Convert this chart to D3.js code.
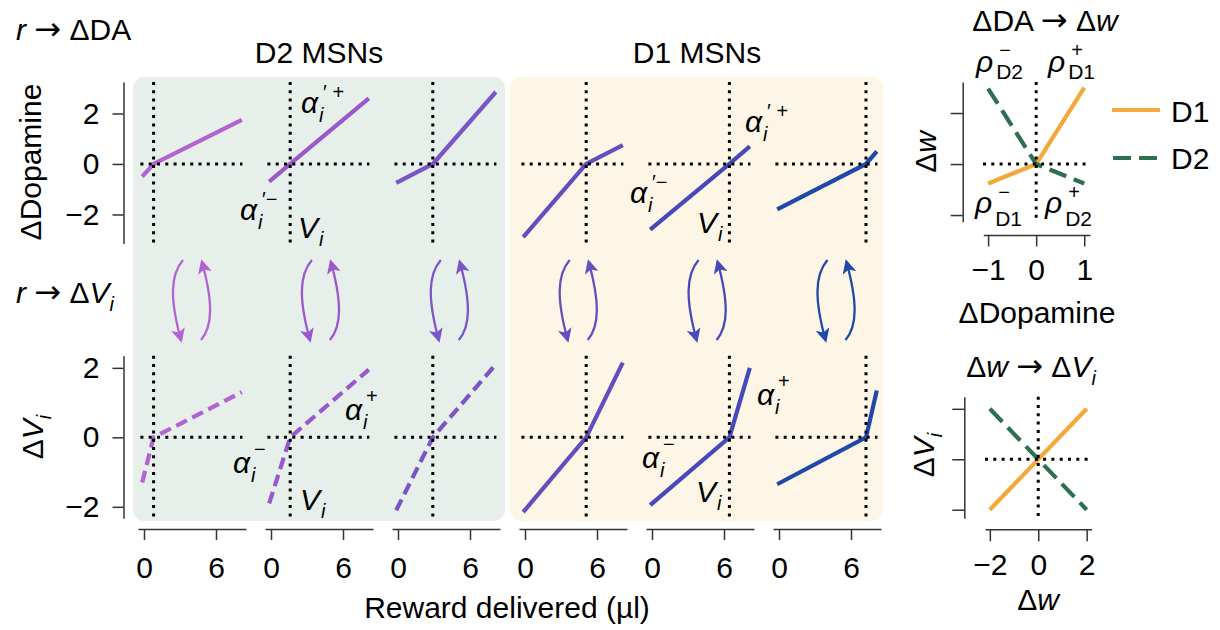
<!DOCTYPE html>
<html>
<head>
<meta charset="utf-8">
<script src="https://cdn.jsdelivr.net/npm/d3@7"></script>
<style>
  body { margin: 0; background: #fff; }
  svg { font-family: "Liberation Sans", Arial, sans-serif; }
  .axis path, .axis line { stroke: #333; stroke-width: 1.5; }
  .axis text { font-size: 30px; fill: #000; font-family: "Liberation Sans", Arial, sans-serif; }
  .dots { stroke: #000; stroke-width: 3; stroke-dasharray: 3, 5.3; fill: none; }
  .it { font-style: italic; }
  .arr { font-family: "DejaVu Sans", sans-serif; font-size: 32px; }
</style>
</head>
<body>
<svg width="1220" height="630"></svg>
<script>
// ---- data ----
var rewardTicks = [0, 6];
var rewardEnds = [-0.15, 8.15];          // first / last reward on each curve
var valueV = [0.8, 1.6, 2.9, 5.1, 6.45, 7.25];   // V_i, where curves cross zero
var daLeft = [-0.5, -0.7, -0.75, -2.9, -2.6, -1.8];
var daRight = [1.75, 2.6, 2.85, 0.75, 0.7, 0.5];
var dvLeft = [-1.3, -1.9, -2.1, -2.15, -1.95, -1.35];
var dvRight = [1.3, 1.95, 2.1, 2.15, 2.0, 1.35];
var isD2 = [true, true, true, false, false, false];
var daTicks = [-2, 0, 2];
var dvTicks = [-2, 0, 2];
var panelColors = ['#b262d2', '#9a58cd', '#7b54c8', '#614fc0', '#4549b9', '#1f48a8'];

var daIn = [-1, 0, 1];
var dwD1 = [-0.38, 0, 1.5];
var dwD2 = [1.48, 0, -0.38];
var daInTicks = [-1, 0, 1];
var dwTicks = [-1, 0, 1];

var dwIn = [-2, 2];
var dviD1 = [-2, 2];
var dviD2 = [2, -2];
var dwInTicks = [-2, 0, 2];
var dviTicks = [-2, 0, 2];

var orange = '#f4a83a';
var green = '#2f6e4f';
var fs = 30;

var svg = d3.select('svg');
var defs = svg.append('defs');
var fmt = d3.format('d');

// panel backgrounds
svg.append('rect').attr('x', 133).attr('y', 77).attr('width', 372).attr('height', 444)
  .attr('rx', 11).attr('fill', '#e7efeb');
svg.append('rect').attr('x', 510).attr('y', 77).attr('width', 373).attr('height', 444)
  .attr('rx', 11).attr('fill', '#fdf6e7');

// text made of parts: [string, kind] kind = i (italic), sub, arr
function label(x, y, parts, anchor, transform) {
  var t = svg.append('text').attr('font-size', fs).attr('text-anchor', anchor || 'start');
  if (transform) t.attr('transform', transform);
  else t.attr('x', x).attr('y', y);
  var shifted = false;
  parts.forEach(function(p) {
    var s = t.append('tspan').text(p[0]);
    if (p[1] == 'i') s.attr('class', 'it');
    if (p[1] == 'arr') s.attr('class', 'arr');
    if (p[1] == 'sub') { s.attr('class', 'it').attr('font-size', 20).attr('dy', 8); shifted = true; }
    else if (shifted) { s.attr('dy', -8); shifted = false; }
  });
  return t;
}

// base glyph with stacked super/subscript
function script(x, y, base, sup, sub, o) {
  var b = svg.append('text').attr('x', x).attr('y', y).attr('font-size', fs)
    .attr('class', 'it').text(base);
  var w = b.node().getComputedTextLength();
  if (sub) svg.append('text').attr('x', x + w + o.subDx).attr('y', y + o.subDy)
    .attr('font-size', o.subSize || 20).attr('class', o.subUp ? null : 'it').text(sub);
  if (sup) svg.append('text').attr('x', x + w + o.supDx).attr('y', y + o.supDy)
    .attr('font-size', 20).text(sup);
}

// titles
label(16, 40, [['r', 'i'], [' '], ['\u2192', 'arr'], [' \u0394DA']]);
label(16, 303, [['r', 'i'], [' '], ['\u2192', 'arr'], [' \u0394'], ['V', 'i'], ['i', 'sub']]);
svg.append('text').attr('x', 319).attr('y', 63).attr('font-size', fs)
  .attr('text-anchor', 'middle').text('D2 MSNs');
svg.append('text').attr('x', 697).attr('y', 63).attr('font-size', fs)
  .attr('text-anchor', 'middle').text('D1 MSNs');
svg.append('text').attr('x', 507).attr('y', 618).attr('font-size', fs)
  .attr('text-anchor', 'middle').text('Reward delivered (\u00b5l)');

svg.append('text').attr('transform', 'translate(41,162) rotate(-90)')
  .attr('font-size', fs).attr('text-anchor', 'middle').text('\u0394Dopamine');
label(0, 0, [['\u0394'], ['V', 'i'], ['i', 'sub']], 'middle', 'translate(43,437) rotate(-90)');

var yTop = d3.scaleLinear().domain([-3.15, 3.25]).range([243.5, 81.9]);
var yBot = d3.scaleLinear().domain([-2.33, 2.35]).range([518.3, 355.7]);

svg.append('g').attr('class', 'axis').attr('transform', 'translate(123.5,0)')
  .call(d3.axisLeft(yTop).tickValues(daTicks).tickFormat(fmt).tickSize(11).tickSizeOuter(0).tickPadding(13));
svg.append('g').attr('class', 'axis').attr('transform', 'translate(123.5,0)')
  .call(d3.axisLeft(yBot).tickValues(dvTicks).tickFormat(fmt).tickSize(11).tickSizeOuter(0).tickPadding(13));

valueV.forEach(function(v, i) {
  var ox = 144 + i * 127;
  var x = d3.scaleLinear().domain([-0.5, 8.5]).range([ox - 6, ox + 102]);
  var col = panelColors[i];

  svg.append('g').attr('class', 'axis').attr('transform', 'translate(0,529)')
    .call(d3.axisBottom(x).tickValues(rewardTicks).tickFormat(fmt).tickSize(11).tickSizeOuter(0).tickPadding(17));

  [[yTop, daLeft, daRight, null], [yBot, dvLeft, dvRight, isD2[i] ? '12,6' : null]].forEach(function(row) {
    var y = row[0];
    var pts = [[rewardEnds[0], row[1][i]], [v, 0], [rewardEnds[1], row[2][i]]];
    var line = d3.line().x(function(d) { return x(d[0]); }).y(function(d) { return y(d[1]); });
    svg.append('path').datum(pts).attr('d', line)
      .attr('fill', 'none').attr('stroke', col).attr('stroke-width', 4.2)
      .attr('stroke-dasharray', row[3]);
    svg.append('line').attr('class', 'dots')
      .attr('x1', x(v)).attr('x2', x(v)).attr('y1', y.range()[1]).attr('y2', y.range()[0]);
    svg.append('line').attr('class', 'dots')
      .attr('x1', x(-0.3)).attr('x2', x(8.2)).attr('y1', y(0)).attr('y2', y(0));
  });

  // update arrows between the rows
  defs.append('marker').attr('id', 'head' + i).attr('viewBox', '0 0 10 10')
    .attr('refX', 8).attr('refY', 5).attr('markerUnits', 'userSpaceOnUse')
    .attr('markerWidth', 16).attr('markerHeight', 14).attr('orient', 'auto')
    .append('path').attr('d', 'M0,0L10,5L0,10L2.5,5Z').attr('fill', col);
  var ax = 182 + i * 128.9;
  svg.append('path')
    .attr('d', 'M' + (ax + 1) + ',260C' + (ax - 12) + ',275 ' + (ax - 12) + ',300 ' + (ax - 1) + ',340')
    .attr('fill', 'none').attr('stroke', col).attr('stroke-width', 2.3)
    .attr('marker-end', 'url(#head' + i + ')');
  svg.append('path')
    .attr('d', 'M' + (ax + 19) + ',340C' + (ax + 31) + ',326 ' + (ax + 31) + ',302 ' + (ax + 20) + ',262')
    .attr('fill', 'none').attr('stroke', col).attr('stroke-width', 2.3)
    .attr('marker-end', 'url(#head' + i + ')');
});

// parameter annotations
var aSup = {subDx: 1, subDy: 9, supDx: 5, supDy: -14};
var p2 = 144 + 127, p5 = 144 + 4 * 127;
script(p2 + 30, 113, '\u03b1', '\u2032 +', 'i', aSup);
script(p2 - 31, 220, '\u03b1', '\u2032\u2212', 'i', aSup);
script(p2 + 27, 238, 'V', null, 'i', {subDx: 1, subDy: 8});
script(p5 + 93, 132, '\u03b1', '\u2032 +', 'i', aSup);
script(p5 - 22, 203, '\u03b1', '\u2032\u2212', 'i', aSup);
script(p5 + 45, 233, 'V', null, 'i', {subDx: 1, subDy: 8});

var bSup = {subDx: 1, subDy: 9, supDx: 4, supDy: -17};
script(p2 + 74, 420, '\u03b1', '+', 'i', bSup);
script(p2 - 38, 473, '\u03b1', '\u2212', 'i', bSup);
script(p2 + 29, 510, 'V', null, 'i', {subDx: 1, subDy: 8});
script(p5 + 105, 405, '\u03b1', '+', 'i', bSup);
script(p5 - 10, 468, '\u03b1', '\u2212', 'i', bSup);
script(p5 + 44, 502, 'V', null, 'i', {subDx: 1, subDy: 8});

// ---- right: dopamine -> weight ----
label(1045, 31, [['\u0394DA '], ['\u2192', 'arr'], [' \u0394'], ['w', 'i']], 'middle');
var xDA = d3.scaleLinear().domain([-1.1, 1.12]).range([983.3, 1090]);
var yDW = d3.scaleLinear().domain([-1.13, 1.61]).range([221.7, 81.9]);
svg.append('g').attr('class', 'axis').attr('transform', 'translate(962.7,0)')
  .call(d3.axisLeft(yDW).tickValues(dwTicks).tickFormat('').tickSize(12).tickSizeOuter(0));
svg.append('g').attr('class', 'axis').attr('transform', 'translate(0,235)')
  .call(d3.axisBottom(xDA).tickValues(daInTicks).tickFormat(fmt).tickSize(11.5).tickSizeOuter(0).tickPadding(12));
var lineDA = function(ys) {
  return d3.line().x(function(d, k) { return xDA(daIn[k]); }).y(function(d) { return yDW(d); })(ys);
};
svg.append('path').attr('d', lineDA(dwD1)).attr('fill', 'none').attr('stroke', orange).attr('stroke-width', 4.2);
svg.append('path').attr('d', lineDA(dwD2)).attr('fill', 'none').attr('stroke', green).attr('stroke-width', 4.2)
  .attr('stroke-dasharray', '18,8');
svg.append('line').attr('class', 'dots').attr('x1', xDA(0)).attr('x2', xDA(0)).attr('y1', 81.9).attr('y2', 221.7);
svg.append('line').attr('class', 'dots').attr('x1', 983).attr('x2', 1087).attr('y1', yDW(0)).attr('y2', yDW(0));
svg.append('text').attr('x', 1037).attr('y', 323).attr('font-size', fs).attr('text-anchor', 'middle').text('\u0394Dopamine');
label(0, 0, [['\u0394'], ['w', 'i']], 'middle', 'translate(936,152) rotate(-90)');

var rSup = {subDx: 3, subDy: 7, supDx: 6, supDy: -15, subUp: true, subSize: 21};
script(976, 72, '\u03c1', '\u2212', 'D2', rSup);
script(1048, 72, '\u03c1', '+', 'D1', rSup);
var rSup2 = {subDx: 3, subDy: 13, supDx: 6, supDy: -14, subUp: true, subSize: 21};
script(975, 213, '\u03c1', '\u2212', 'D1', rSup2);
script(1045, 213, '\u03c1', '+', 'D2', rSup2);

// legend
svg.append('line').attr('x1', 1112).attr('x2', 1160).attr('y1', 110).attr('y2', 110)
  .attr('stroke', orange).attr('stroke-width', 4.2);
svg.append('line').attr('x1', 1113).attr('x2', 1160).attr('y1', 158).attr('y2', 158)
  .attr('stroke', green).attr('stroke-width', 4.2).attr('stroke-dasharray', '18,8');
svg.append('text').attr('x', 1171).attr('y', 122).attr('font-size', fs).text('D1');
svg.append('text').attr('x', 1171).attr('y', 169).attr('font-size', fs).text('D2');

// ---- right: weight -> value ----
label(1031, 377, [['\u0394'], ['w', 'i'], [' '], ['\u2192', 'arr'], [' \u0394'], ['V', 'i'], ['i', 'sub']], 'middle');
var xW = d3.scaleLinear().domain([-2.2, 2.2]).range([985, 1091.5]);
var yV = d3.scaleLinear().domain([-2.34, 2.48]).range([518.3, 396.7]);
svg.append('g').attr('class', 'axis').attr('transform', 'translate(964.3,0)')
  .call(d3.axisLeft(yV).tickValues(dviTicks).tickFormat('').tickSize(12).tickSizeOuter(0));
svg.append('g').attr('class', 'axis').attr('transform', 'translate(0,529.3)')
  .call(d3.axisBottom(xW).tickValues(dwInTicks).tickFormat(fmt).tickSize(12).tickSizeOuter(0).tickPadding(12));
var lineW = function(ys) {
  return d3.line().x(function(d, k) { return xW(dwIn[k]); }).y(function(d) { return yV(d); })(ys);
};
svg.append('path').attr('d', lineW(dviD1)).attr('fill', 'none').attr('stroke', orange).attr('stroke-width', 4.2);
svg.append('path').attr('d', lineW(dviD2)).attr('fill', 'none').attr('stroke', green).attr('stroke-width', 4.2)
  .attr('stroke-dasharray', '18,8');
svg.append('line').attr('class', 'dots').attr('x1', xW(0)).attr('x2', xW(0)).attr('y1', 396.7).attr('y2', 518.3);
svg.append('line').attr('class', 'dots').attr('x1', 985).attr('x2', 1088).attr('y1', yV(0)).attr('y2', yV(0));
label(1038, 610, [['\u0394'], ['w', 'i']], 'middle');
label(0, 0, [['\u0394'], ['V', 'i'], ['i', 'sub']], 'middle', 'translate(934,455) rotate(-90)');
</script>
</body>
</html>
